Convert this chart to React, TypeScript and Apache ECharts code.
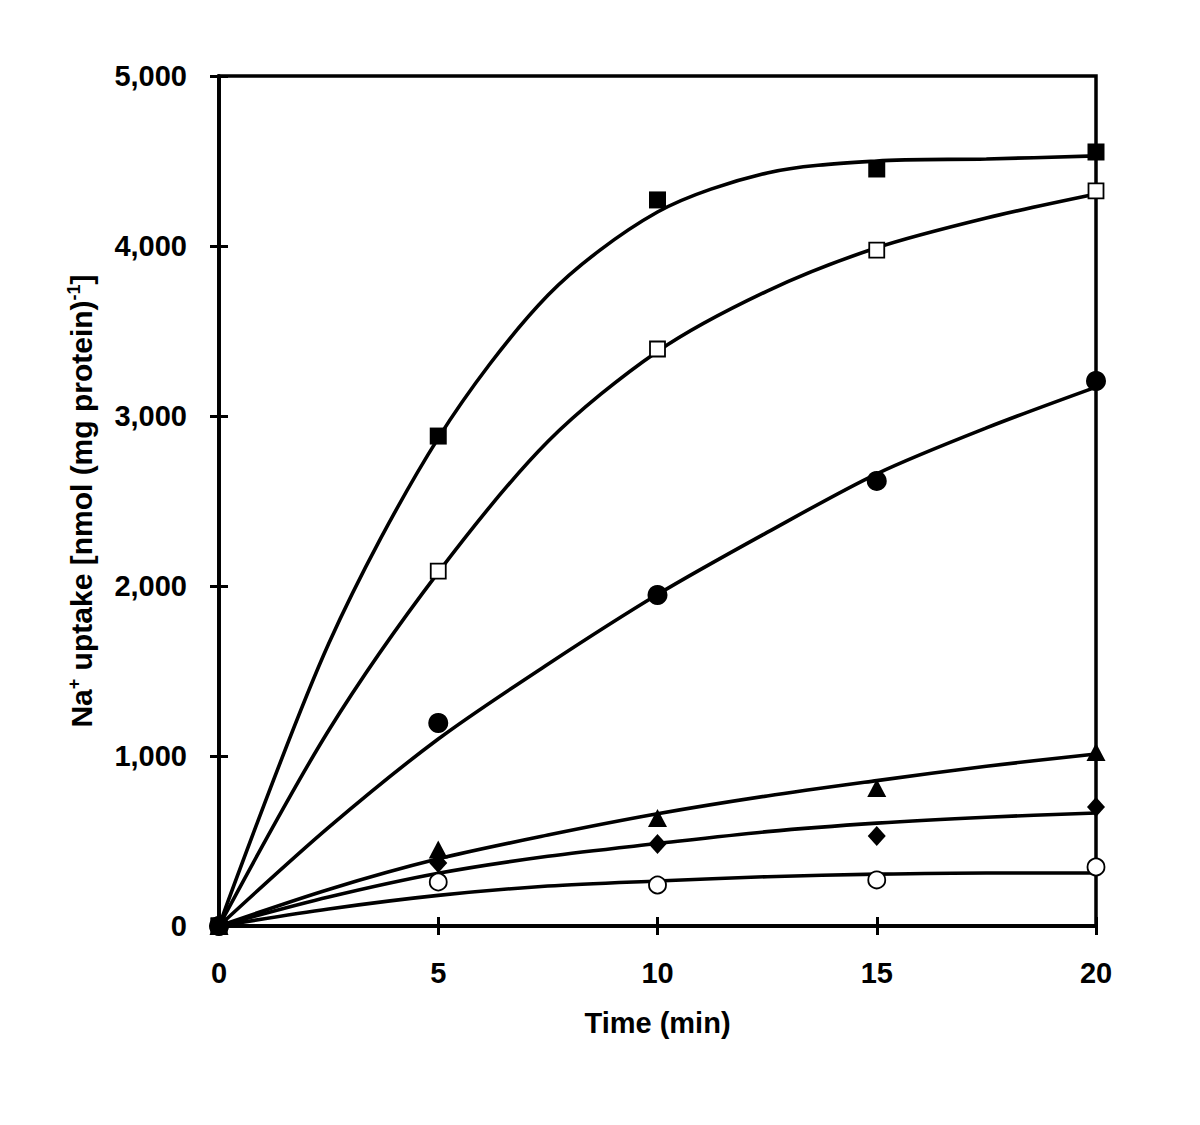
import React, { useEffect, useRef } from "react";
import * as echarts from "echarts";

// Measured data points (Time in min, Na+ uptake in nmol/mg protein)
const times = [0, 5, 10, 15, 20];
const filledSquare = [0, 2882, 4271, 4453, 4553];
const openSquare = [0, 2088, 3394, 3976, 4324];
const filledCircle = [0, 1194, 1947, 2618, 3206];
const filledTriangle = [0, 450, 635, 812, 1024];
const filledDiamond = [0, 371, 482, 529, 700];
const openCircle = [0, 259, 241, 271, 347];

// Fitted curves
const curveTimes = [0, 2.5, 5, 7.5, 10, 12.5, 15, 17.5, 20];
const curveFilledSquare = [0, 1660, 2870, 3710, 4200, 4430, 4500, 4512, 4530];
const curveOpenSquare = [0, 1150, 2080, 2850, 3380, 3735, 3990, 4165, 4306];
const curveFilledCircle = [0, 580, 1100, 1540, 1950, 2315, 2660, 2930, 3170];
const curveTriangle = [0, 215, 395, 535, 660, 765, 855, 940, 1012];
const curveDiamond = [0, 170, 310, 410, 485, 555, 605, 640, 665];
const curveOpenCircle = [0, 100, 180, 235, 265, 290, 305, 312, 312];

const yTicks = [0, 1000, 2000, 3000, 4000, 5000];
const xTicks = [0, 5, 10, 15, 20];

const FONT = "'Liberation Sans', Arial, sans-serif";

function pairs(xs: number[], ys: number[]) {
  return xs.map((x, i) => [x, ys[i]]);
}

export default function App() {
  const ref = useRef<HTMLDivElement>(null);
  useEffect(() => {
    if (!ref.current) return;
    const chart = echarts.init(ref.current, undefined, { renderer: "svg" });
    const axisLine = { show: true, lineStyle: { color: "#000", width: 3.5 } };
    const labelStyle = {
      color: "#000",
      fontFamily: FONT,
      fontWeight: "bold" as const,
      fontSize: 29,
    };
    const xBase = {
      type: "value" as const,
      min: xTicks[0],
      max: xTicks[xTicks.length - 1],
      interval: 5,
      splitLine: { show: false },
      axisLine,
    };
    const yBase = {
      type: "value" as const,
      min: yTicks[0],
      max: yTicks[yTicks.length - 1],
      interval: 1000,
      splitLine: { show: false },
      axisLine,
    };
    const curveSeries = [
      curveFilledSquare,
      curveOpenSquare,
      curveFilledCircle,
      curveTriangle,
      curveDiamond,
      curveOpenCircle,
    ].map((c) => ({
      type: "line" as const,
      data: pairs(curveTimes, c),
      smooth: 0.3,
      showSymbol: false,
      symbol: "none",
      lineStyle: { color: "#000", width: 3.6 },
      clip: false,
      z: 2,
    }));
    const markerDefs = [
      { data: openCircle, symbol: "circle", size: 17, open: true },
      { data: filledDiamond, symbol: "diamond", size: [18, 20], open: false },
      { data: filledTriangle, symbol: "triangle", size: [19, 18], open: false },
      { data: filledCircle, symbol: "circle", size: 20, open: false },
      { data: openSquare, symbol: "rect", size: 15, open: true },
      { data: filledSquare, symbol: "rect", size: 17, open: false },
    ];
    const markerSeries = markerDefs.map((m) => ({
      type: "scatter" as const,
      data: pairs(times, m.data),
      symbol: m.symbol,
      symbolSize: m.size,
      clip: false,
      itemStyle: m.open
        ? { color: "#fff", borderColor: "#000", borderWidth: 1.8, opacity: 1 }
        : { color: "#000", borderWidth: 0, opacity: 1 },
      z: 3,
    }));
    chart.setOption({
      animation: false,
      backgroundColor: "#fff",
      grid: {
        left: 219,
        top: 76,
        width: 877,
        height: 850,
        show: true,
        borderColor: "#000",
        borderWidth: 3.5,
        backgroundColor: "transparent",
      },
      xAxis: [
        {
          ...xBase,
          position: "bottom",
          axisTick: { show: true, inside: false, length: 9, lineStyle: { color: "#000", width: 3 } },
          axisLabel: { ...labelStyle, margin: 32 },
          name: "Time (min)",
          nameLocation: "middle",
          nameGap: 82,
          nameTextStyle: { ...labelStyle },
        },
        {
          ...xBase,
          position: "bottom",
          axisTick: { show: true, inside: true, length: 9, lineStyle: { color: "#000", width: 3 } },
          axisLabel: { show: false },
        },
      ],
      yAxis: [
        {
          ...yBase,
          position: "left",
          axisTick: { show: true, inside: false, length: 9, lineStyle: { color: "#000", width: 3 } },
          axisLabel: {
            ...labelStyle,
            margin: 32,
            formatter: (v: number) => v.toLocaleString("en-US"),
          },
          name: "Na{sup|+} uptake [nmol (mg protein){sup|-1}]",
          nameLocation: "middle",
          nameRotate: 90,
          nameGap: 121,
          nameTextStyle: {
            ...labelStyle,
            fontSize: 30,
            rich: {
              sup: {
                fontFamily: FONT,
                fontWeight: "bold",
                fontSize: 18,
                color: "#000",
                verticalAlign: "bottom",
                padding: [0, 0, 15, 0],
              },
            },
          },
        },
        {
          ...yBase,
          position: "left",
          axisTick: { show: true, inside: true, length: 9, lineStyle: { color: "#000", width: 3 } },
          axisLabel: { show: false },
        },
      ],
      series: [...curveSeries, ...markerSeries],
    });
    return () => chart.dispose();
  }, []);
  return (
    <div
      ref={ref}
      style={{ position: "fixed", left: 0, top: 0, width: 1200, height: 1125, background: "#fff" }}
    />
  );
}
